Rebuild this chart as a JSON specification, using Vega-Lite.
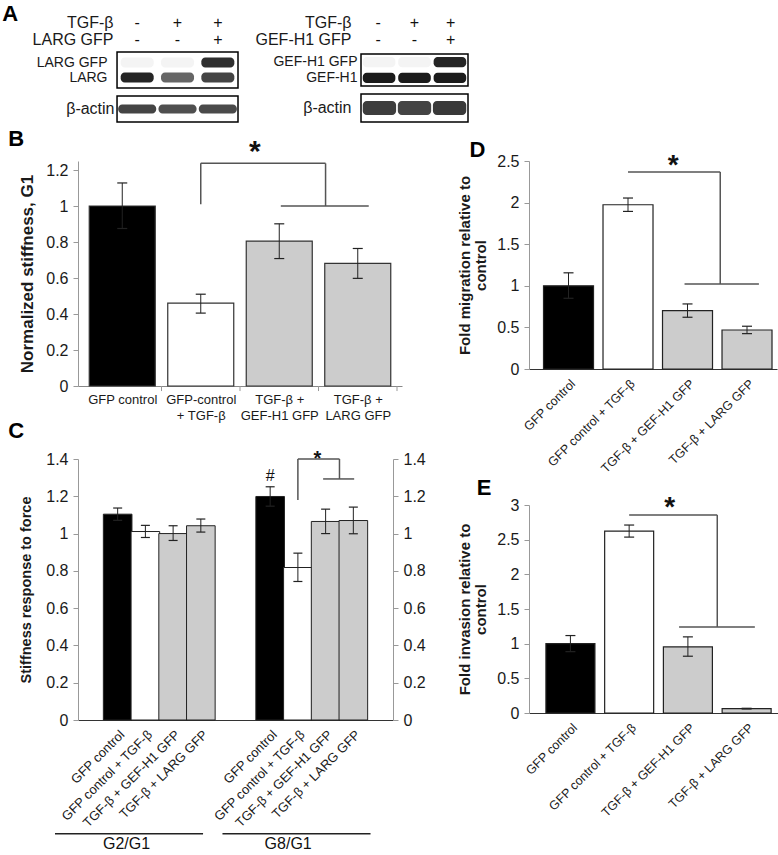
{
  "$schema": "https://vega.github.io/schema/vega-lite/v6.json",
  "padding": {"left": 2, "top": 2, "right": 0, "bottom": 0},
  "background": "white",
  "config": {
    "font": "Liberation Sans",
    "view": {"stroke": null},
    "axis": {"labelFont": "Liberation Sans", "titleFont": "Liberation Sans", "labelColor": "#1a1a1a", "titleColor": "#1a1a1a", "grid": false, "labelOverlap": false, "labelBound": false},
    "text": {"font": "Liberation Sans"}
  },
  "spacing": 5,
  "vconcat": [
    {
      "hconcat": [
        {
          "vconcat": [
            {
              "width": 160, "height": 34,
              "layer": [
                {
                  "data": {"values": [
                    {"lane": 1, "row": "TGF-β", "sign": "-"}, {"lane": 2, "row": "TGF-β", "sign": "+"}, {"lane": 3, "row": "TGF-β", "sign": "+"},
                    {"lane": 1, "row": "LARG GFP", "sign": "-"}, {"lane": 2, "row": "LARG GFP", "sign": "-"}, {"lane": 3, "row": "LARG GFP", "sign": "+"}
                  ]},
                  "mark": {"type": "text", "fontSize": 16, "color": "#111"},
                  "encoding": {
                    "x": {"field": "lane", "type": "quantitative", "scale": {"domain": [-0.468, 3.5], "nice": false, "zero": false}, "axis": null},
                    "y": {"field": "row", "type": "nominal", "sort": ["TGF-β", "LARG GFP"], "scale": {"type": "band"},
                          "axis": {"title": null, "offset": -39, "domain": false, "ticks": false, "labelFontSize": 16, "labelPadding": 4}},
                    "text": {"field": "sign"}
                  }
                },
                {
                  "data": {"values": [{"t": "A"}]},
                  "mark": {"type": "text", "fontSize": 22, "fontWeight": "bold", "color": "#000", "dy": -9},
                  "encoding": {
                    "x": {"datum": -2.15, "type": "quantitative", "scale": {"domain": [-0.468, 3.5], "nice": false, "zero": false}},
                    "y": {"datum": "TGF-β", "type": "nominal"},
                    "text": {"field": "t"}
                  }
                }
              ]
            },
            {
              "vconcat": [
                {
                  "width": 160, "height": 36,
                  "layer": [
                    {
                      "data": {"values": [{"box": "LARG blot"}]},
                      "mark": {"type": "rect", "fill": "#ffffff", "stroke": "#000", "strokeWidth": 1.5},
                      "encoding": {
                        "x": {"datum": 0.5, "type": "quantitative", "scale": {"domain": [-0.468, 3.5], "nice": false, "zero": false}, "axis": null},
                        "x2": {"datum": 3.5}
                      }
                    },
                    {
                      "data": {"values": [
                        {"lane": 1, "band": "LARG GFP", "intensity": 0.04}, {"lane": 2, "band": "LARG GFP", "intensity": 0.04}, {"lane": 3, "band": "LARG GFP", "intensity": 0.85},
                        {"lane": 1, "band": "LARG", "intensity": 0.9}, {"lane": 2, "band": "LARG", "intensity": 0.6}, {"lane": 3, "band": "LARG", "intensity": 0.75}
                      ]},
                      "mark": {"type": "tick", "orient": "horizontal", "size": 33, "thickness": 10, "cornerRadius": 4, "opacity": 1},
                      "encoding": {
                        "x": {"field": "lane", "type": "quantitative", "scale": {"domain": [-0.468, 3.5], "nice": false, "zero": false}, "axis": null},
                        "y": {"field": "band", "type": "nominal", "sort": ["LARG GFP", "LARG"], "scale": {"type": "band", "paddingInner": 0.2, "paddingOuter": 0.3},
                              "axis": {"title": null, "offset": -39, "domain": false, "ticks": false, "labelFontSize": 14, "labelPadding": 10}},
                        "color": {"field": "intensity", "type": "quantitative", "scale": {"domain": [0, 1], "range": ["#ffffff", "#111111"]}, "legend": null}
                      }
                    }
                  ]
                },
                {
                  "width": 160, "height": 26,
                  "layer": [
                    {
                      "data": {"values": [{"box": "actin blot"}]},
                      "mark": {"type": "rect", "fill": "#ffffff", "stroke": "#000", "strokeWidth": 1.5},
                      "encoding": {
                        "x": {"datum": 0.5, "type": "quantitative", "scale": {"domain": [-0.468, 3.5], "nice": false, "zero": false}, "axis": null},
                        "x2": {"datum": 3.5}
                      }
                    },
                    {
                      "data": {"values": [
                        {"lane": 1, "band": "β-actin", "intensity": 0.75}, {"lane": 2, "band": "β-actin", "intensity": 0.7}, {"lane": 3, "band": "β-actin", "intensity": 0.72}
                      ]},
                      "mark": {"type": "tick", "orient": "horizontal", "size": 38, "thickness": 9, "cornerRadius": 4, "opacity": 1},
                      "encoding": {
                        "x": {"field": "lane", "type": "quantitative", "scale": {"domain": [-0.468, 3.5], "nice": false, "zero": false}, "axis": null},
                        "y": {"field": "band", "type": "nominal", "scale": {"type": "band", "paddingInner": 0.2, "paddingOuter": 0.3},
                              "axis": {"title": null, "offset": -39, "domain": false, "ticks": false, "labelFontSize": 16, "labelPadding": 3}},
                        "color": {"field": "intensity", "type": "quantitative", "scale": {"domain": [0, 1], "range": ["#ffffff", "#111111"]}, "legend": null}
                      }
                    }
                  ]
                }
              ],
              "spacing": 6
            }
          ],
          "spacing": 3
        },
        {
          "vconcat": [
            {
              "width": 107, "height": 34,
              "data": {"values": [
                {"lane": 1, "row": "TGF-β", "sign": "-"}, {"lane": 2, "row": "TGF-β", "sign": "+"}, {"lane": 3, "row": "TGF-β", "sign": "+"},
                {"lane": 1, "row": "GEF-H1 GFP", "sign": "-"}, {"lane": 2, "row": "GEF-H1 GFP", "sign": "-"}, {"lane": 3, "row": "GEF-H1 GFP", "sign": "+"}
              ]},
              "mark": {"type": "text", "fontSize": 16, "color": "#111"},
              "encoding": {
                "x": {"field": "lane", "type": "ordinal", "scale": {"type": "band", "paddingInner": 0.15, "paddingOuter": 0.05}, "axis": null},
                "y": {"field": "row", "type": "nominal", "sort": ["TGF-β", "GEF-H1 GFP"], "scale": {"type": "band"},
                      "axis": {"title": null, "domain": false, "ticks": false, "labelFontSize": 16, "labelPadding": 10}},
                "text": {"field": "sign"}
              }
            },
            {
              "vconcat": [
                {
                  "width": 107, "height": 32,
                  "view": {"stroke": "#000", "strokeWidth": 1.5},
                  "data": {"values": [
                    {"lane": 1, "band": "GEF-H1 GFP", "intensity": 0.04}, {"lane": 2, "band": "GEF-H1 GFP", "intensity": 0.04}, {"lane": 3, "band": "GEF-H1 GFP", "intensity": 0.9},
                    {"lane": 1, "band": "GEF-H1", "intensity": 0.95}, {"lane": 2, "band": "GEF-H1", "intensity": 0.95}, {"lane": 3, "band": "GEF-H1", "intensity": 0.95}
                  ]},
                  "mark": {"type": "rect", "cornerRadius": 4},
                  "encoding": {
                    "x": {"field": "lane", "type": "ordinal", "scale": {"paddingInner": 0.08, "paddingOuter": 0.05}, "axis": null},
                    "y": {"field": "band", "type": "nominal", "sort": ["GEF-H1 GFP", "GEF-H1"], "scale": {"paddingInner": 0.35, "paddingOuter": 0.2},
                          "axis": {"title": null, "domain": false, "ticks": false, "labelFontSize": 14, "labelPadding": 4}},
                    "color": {"field": "intensity", "type": "quantitative", "scale": {"domain": [0, 1], "range": ["#ffffff", "#111111"]}, "legend": null}
                  }
                },
                {
                  "width": 107, "height": 28,
                  "view": {"stroke": "#000", "strokeWidth": 1.5},
                  "data": {"values": [
                    {"lane": 1, "band": "β-actin", "intensity": 0.78}, {"lane": 2, "band": "β-actin", "intensity": 0.75}, {"lane": 3, "band": "β-actin", "intensity": 0.8}
                  ]},
                  "mark": {"type": "rect", "cornerRadius": 4},
                  "encoding": {
                    "x": {"field": "lane", "type": "ordinal", "scale": {"paddingInner": 0.05, "paddingOuter": 0.05}, "axis": null},
                    "y": {"field": "band", "type": "nominal", "scale": {"paddingInner": 0.4, "paddingOuter": 0.3},
                          "axis": {"title": null, "domain": false, "ticks": false, "labelFontSize": 16, "labelPadding": 10}},
                    "color": {"field": "intensity", "type": "quantitative", "scale": {"domain": [0, 1], "range": ["#ffffff", "#111111"]}, "legend": null}
                  }
                }
              ],
              "spacing": 6
            }
          ],
          "spacing": 5
        }
      ],
      "spacing": 15
    },
    {
      "hconcat": [
        {
          "vconcat": [
            {
              "width": 324, "height": 225,
              "layer": [
                {
                  "data": {"values": [
                    {"pos": 1, "group": "control", "value": 1.0, "lo": 0.875, "hi": 1.128},
                    {"pos": 2, "group": "tgf", "value": 0.46, "lo": 0.405, "hi": 0.51},
                    {"pos": 3, "group": "rescue", "value": 0.805, "lo": 0.708, "hi": 0.901},
                    {"pos": 4, "group": "rescue", "value": 0.681, "lo": 0.598, "hi": 0.764}
                  ]},
                  "layer": [
                    {
                      "mark": {"type": "bar", "size": 66, "stroke": "#333", "strokeWidth": 1.2},
                      "encoding": {
                        "x": {"field": "pos", "type": "quantitative", "title": null, "scale": {"domain": [0.5, 4.5], "nice": false, "zero": false},
                              "axis": {"values": [1, 2, 3, 4], "ticks": false, "domainColor": "#888", "labelFontSize": 13, "labelPadding": 7, "labelLineHeight": 16, "labelOverlap": false,
                                       "labelExpr": "datum.value == 1 ? 'GFP control' : datum.value == 2 ? ['GFP-control', '+ TGF-β'] : datum.value == 3 ? ['TGF-β +', 'GEF-H1 GFP'] : ['TGF-β +', 'LARG GFP']"}},
                        "y": {"field": "value", "type": "quantitative", "title": "Normalized stiffness, G1", "scale": {"domain": [0, 1.25], "nice": false},
                              "axis": {"values": [0, 0.2, 0.4, 0.6, 0.8, 1, 1.2], "tickCount": 7, "labelOverlap": false, "format": "~g", "labelFontSize": 16, "titleFontSize": 17, "titleFontWeight": "bold", "domainColor": "#999", "tickColor": "#999", "tickSize": 5, "labelPadding": 5, "titlePadding": 9}},
                        "fill": {"field": "group", "type": "nominal", "scale": {"domain": ["control", "tgf", "rescue"], "range": ["#000000", "#ffffff", "#cccccc"]}, "legend": null}
                      }
                    },
                    {
                      "mark": {"type": "rule", "color": "#222", "strokeWidth": 1},
                      "encoding": {
                        "x": {"field": "pos", "type": "quantitative", "scale": {"domain": [0.5, 4.5], "nice": false, "zero": false}},
                        "y": {"field": "lo", "type": "quantitative", "title": "Normalized stiffness, G1", "scale": {"domain": [0, 1.25], "nice": false}},
                        "y2": {"field": "hi"}
                      }
                    },
                    {
                      "mark": {"type": "tick", "orient": "horizontal", "size": 10, "thickness": 1.2, "color": "#222", "opacity": 1},
                      "encoding": {
                        "x": {"field": "pos", "type": "quantitative", "scale": {"domain": [0.5, 4.5], "nice": false, "zero": false}},
                        "y": {"field": "hi", "type": "quantitative", "title": "Normalized stiffness, G1", "scale": {"domain": [0, 1.25], "nice": false}}
                      }
                    },
                    {
                      "mark": {"type": "tick", "orient": "horizontal", "size": 10, "thickness": 1.2, "color": "#222", "opacity": 1},
                      "encoding": {
                        "x": {"field": "pos", "type": "quantitative", "scale": {"domain": [0.5, 4.5], "nice": false, "zero": false}},
                        "y": {"field": "lo", "type": "quantitative", "title": "Normalized stiffness, G1", "scale": {"domain": [0, 1.25], "nice": false}}
                      }
                    }
                  ]
                },
                {
                  "data": {"values": [
                    {"x": 1.5, "x2": 1.5, "y": 0, "y2": -0.028},
                    {"x": 2.5, "x2": 2.5, "y": 0, "y2": -0.028},
                    {"x": 3.5, "x2": 3.5, "y": 0, "y2": -0.028},
                    {"x": 4.5, "x2": 4.5, "y": 0, "y2": -0.028}
                  ]},
                  "mark": {"type": "rule", "color": "#999", "strokeWidth": 1},
                  "encoding": {
                    "x": {"field": "x", "type": "quantitative", "scale": {"domain": [0.5, 4.5], "nice": false, "zero": false}},
                    "x2": {"field": "x2"},
                    "y": {"field": "y", "type": "quantitative", "title": "Normalized stiffness, G1", "scale": {"domain": [0, 1.25], "nice": false}},
                    "y2": {"field": "y2"}
                  }
                },
                {
                  "data": {"values": [
                    {"x": 2, "x2": 2, "y": 1.01, "y2": 1.237},
                    {"x": 2, "x2": 3.59, "y": 1.237, "y2": 1.237},
                    {"x": 3.59, "x2": 3.59, "y": 1.237, "y2": 1.0},
                    {"x": 3.02, "x2": 4.14, "y": 1.0, "y2": 1.0}
                  ]},
                  "mark": {"type": "rule", "color": "#555", "strokeWidth": 1.5},
                  "encoding": {
                    "x": {"field": "x", "type": "quantitative", "scale": {"domain": [0.5, 4.5], "nice": false, "zero": false}},
                    "x2": {"field": "x2"},
                    "y": {"field": "y", "type": "quantitative", "title": "Normalized stiffness, G1", "scale": {"domain": [0, 1.25], "nice": false}},
                    "y2": {"field": "y2"}
                  }
                },
                {
                  "data": {"values": [{"x": 2.69, "y": 1.326, "t": "*"}]},
                  "mark": {"type": "text", "fontSize": 30, "fontWeight": "bold", "dy": 5, "color": "#111"},
                  "encoding": {
                    "x": {"field": "x", "type": "quantitative", "scale": {"domain": [0.5, 4.5], "nice": false, "zero": false}},
                    "y": {"field": "y", "type": "quantitative", "title": "Normalized stiffness, G1", "scale": {"domain": [0, 1.25], "nice": false}},
                    "text": {"field": "t"}
                  }
                },
                {
                  "data": {"values": [{"x": -0.352, "y": 1.372, "t": "B"}]},
                  "mark": {"type": "text", "fontSize": 22, "fontWeight": "bold", "baseline": "middle", "color": "#000"},
                  "encoding": {
                    "x": {"field": "x", "type": "quantitative", "scale": {"domain": [0.5, 4.5], "nice": false, "zero": false}},
                    "y": {"field": "y", "type": "quantitative", "title": "Normalized stiffness, G1", "scale": {"domain": [0, 1.25], "nice": false}},
                    "text": {"field": "t"}
                  }
                }
              ]
            },
            {
              "width": 315, "height": 261,
              "resolve": {"axis": {"y": "independent"}},
              "layer": [
                {
                  "data": {"values": [
                    {"pos": 1, "ratio": "G2/G1", "group": "control", "value": 1.104, "lo": 1.071, "hi": 1.137},
                    {"pos": 2, "ratio": "G2/G1", "group": "tgf", "value": 1.011, "lo": 0.979, "hi": 1.044},
                    {"pos": 3, "ratio": "G2/G1", "group": "rescue", "value": 1.0, "lo": 0.963, "hi": 1.042},
                    {"pos": 4, "ratio": "G2/G1", "group": "rescue", "value": 1.042, "lo": 1.008, "hi": 1.078},
                    {"pos": 6.5, "ratio": "G8/G1", "group": "control", "value": 1.199, "lo": 1.147, "hi": 1.251},
                    {"pos": 7.5, "ratio": "G8/G1", "group": "tgf", "value": 0.818, "lo": 0.743, "hi": 0.895},
                    {"pos": 8.5, "ratio": "G8/G1", "group": "rescue", "value": 1.065, "lo": 1.0, "hi": 1.131},
                    {"pos": 9.5, "ratio": "G8/G1", "group": "rescue", "value": 1.07, "lo": 0.999, "hi": 1.142}
                  ]},
                  "layer": [
                    {
                      "mark": {"type": "bar", "size": 28.6, "stroke": "#222", "strokeWidth": 1},
                      "encoding": {
                        "x": {"field": "pos", "type": "quantitative", "title": null, "scale": {"domain": [-0.25, 10.75], "nice": false, "zero": false},
                              "axis": {"values": [1, 2, 3, 4, 6.5, 7.5, 8.5, 9.5], "ticks": false, "domainColor": "#333", "labelAngle": -45, "labelFontSize": 13, "labelPadding": 8, "labelOverlap": false,
                                       "labelExpr": "(datum.value == 1 || datum.value == 6.5) ? 'GFP control' : (datum.value == 2 || datum.value == 7.5) ? 'GFP control + TGF-β' : (datum.value == 3 || datum.value == 8.5) ? 'TGF-β + GEF-H1 GFP' : 'TGF-β + LARG GFP'"}},
                        "y": {"field": "value", "type": "quantitative", "title": "Stiffness response to force", "scale": {"domain": [0, 1.4], "nice": false},
                              "axis": {"orient": "left", "values": [0, 0.2, 0.4, 0.6, 0.8, 1, 1.2, 1.4], "labelOverlap": false, "format": "~g", "labelFontSize": 16, "titleFontSize": 14.5, "titleFontWeight": "bold", "domainColor": "#999", "tickColor": "#999", "tickSize": 5, "labelPadding": 5, "titlePadding": 12}},
                        "fill": {"field": "group", "type": "nominal", "scale": {"domain": ["control", "tgf", "rescue"], "range": ["#000000", "#ffffff", "#cccccc"]}, "legend": null}
                      }
                    },
                    {
                      "mark": {"type": "rule", "color": "#222", "strokeWidth": 1},
                      "encoding": {
                        "x": {"field": "pos", "type": "quantitative", "scale": {"domain": [-0.25, 10.75], "nice": false, "zero": false}},
                        "y": {"field": "lo", "type": "quantitative", "title": null, "scale": {"domain": [0, 1.4], "nice": false},
                              "axis": {"orient": "right", "values": [0, 0.2, 0.4, 0.6, 0.8, 1, 1.2, 1.4], "labelOverlap": false, "format": "~g", "labelFontSize": 16, "domainColor": "#999", "tickColor": "#999", "tickSize": 5, "labelPadding": 5}},
                        "y2": {"field": "hi"}
                      }
                    },
                    {
                      "mark": {"type": "tick", "orient": "horizontal", "size": 9, "thickness": 1.2, "color": "#222", "opacity": 1},
                      "encoding": {
                        "x": {"field": "pos", "type": "quantitative", "scale": {"domain": [-0.25, 10.75], "nice": false, "zero": false}},
                        "y": {"field": "hi", "type": "quantitative", "scale": {"domain": [0, 1.4], "nice": false}, "axis": null}
                      }
                    },
                    {
                      "mark": {"type": "tick", "orient": "horizontal", "size": 9, "thickness": 1.2, "color": "#222", "opacity": 1},
                      "encoding": {
                        "x": {"field": "pos", "type": "quantitative", "scale": {"domain": [-0.25, 10.75], "nice": false, "zero": false}},
                        "y": {"field": "lo", "type": "quantitative", "scale": {"domain": [0, 1.4], "nice": false}, "axis": null}
                      }
                    }
                  ]
                },
                {
                  "data": {"values": [
                    {"x": 7.5, "x2": 7.5, "y": 1.18, "y2": 1.4},
                    {"x": 7.5, "x2": 9.0, "y": 1.4, "y2": 1.4},
                    {"x": 9.0, "x2": 9.0, "y": 1.4, "y2": 1.293},
                    {"x": 8.41, "x2": 9.53, "y": 1.293, "y2": 1.293}
                  ]},
                  "mark": {"type": "rule", "color": "#555", "strokeWidth": 1.5},
                  "encoding": {
                    "x": {"field": "x", "type": "quantitative", "scale": {"domain": [-0.25, 10.75], "nice": false, "zero": false}},
                    "x2": {"field": "x2"},
                    "y": {"field": "y", "type": "quantitative", "scale": {"domain": [0, 1.4], "nice": false}, "axis": null},
                    "y2": {"field": "y2"}
                  }
                },
                {
                  "data": {"values": [
                    {"x": -1.26, "x2": 4.08, "y": -0.61, "y2": -0.61},
                    {"x": 4.78, "x2": 10.12, "y": -0.61, "y2": -0.61}
                  ]},
                  "mark": {"type": "rule", "color": "#222", "strokeWidth": 1.5},
                  "encoding": {
                    "x": {"field": "x", "type": "quantitative", "scale": {"domain": [-0.25, 10.75], "nice": false, "zero": false}},
                    "x2": {"field": "x2"},
                    "y": {"field": "y", "type": "quantitative", "scale": {"domain": [0, 1.4], "nice": false}, "axis": null},
                    "y2": {"field": "y2"}
                  }
                },
                {
                  "data": {"values": [
                    {"x": 1.32, "y": -0.665, "t": "G2/G1"},
                    {"x": 7.15, "y": -0.665, "t": "G8/G1"},
                    {"x": 6.5, "y": 1.307, "t": "#"}
                  ]},
                  "mark": {"type": "text", "fontSize": 16, "baseline": "middle", "color": "#111"},
                  "encoding": {
                    "x": {"field": "x", "type": "quantitative", "scale": {"domain": [-0.25, 10.75], "nice": false, "zero": false}},
                    "y": {"field": "y", "type": "quantitative", "scale": {"domain": [0, 1.4], "nice": false}, "axis": null},
                    "text": {"field": "t"}
                  }
                },
                {
                  "data": {"values": [{"x": 8.2, "y": 1.43, "t": "*"}]},
                  "mark": {"type": "text", "fontSize": 20, "fontWeight": "bold", "dy": 6, "color": "#111"},
                  "encoding": {
                    "x": {"field": "x", "type": "quantitative", "scale": {"domain": [-0.25, 10.75], "nice": false, "zero": false}},
                    "y": {"field": "y", "type": "quantitative", "scale": {"domain": [0, 1.4], "nice": false}, "axis": null},
                    "text": {"field": "t"}
                  }
                },
                {
                  "data": {"values": [{"x": -2.66, "y": 1.55, "t": "C"}]},
                  "mark": {"type": "text", "fontSize": 22, "fontWeight": "bold", "baseline": "middle", "color": "#000"},
                  "encoding": {
                    "x": {"field": "x", "type": "quantitative", "scale": {"domain": [-0.25, 10.75], "nice": false, "zero": false}},
                    "y": {"field": "y", "type": "quantitative", "scale": {"domain": [0, 1.4], "nice": false}, "axis": null},
                    "text": {"field": "t"}
                  }
                }
              ]
            }
          ],
          "spacing": -2
        },
        {
          "vconcat": [
            {
              "width": 248, "height": 208,
              "layer": [
                {
                  "data": {"values": [
                    {"pos": 1, "group": "control", "value": 1.0, "lo": 0.85, "hi": 1.156},
                    {"pos": 2, "group": "tgf", "value": 1.974, "lo": 1.894, "hi": 2.055},
                    {"pos": 3, "group": "rescue", "value": 0.702, "lo": 0.622, "hi": 0.782},
                    {"pos": 4, "group": "rescue", "value": 0.469, "lo": 0.425, "hi": 0.514}
                  ]},
                  "layer": [
                    {
                      "mark": {"type": "bar", "size": 50, "stroke": "#222", "strokeWidth": 1.2},
                      "encoding": {
                        "x": {"field": "pos", "type": "quantitative", "title": null, "scale": {"domain": [0.42, 4.42], "nice": false, "zero": false},
                              "axis": {"values": [1, 2, 3, 4], "ticks": false, "domainColor": "#333", "labelAngle": -45, "labelFontSize": 12.5, "labelPadding": 8, "labelOverlap": false,
                                       "labelExpr": "datum.value == 1 ? 'GFP control' : datum.value == 2 ? 'GFP control + TGF-β' : datum.value == 3 ? 'TGF-β + GEF-H1 GFP' : 'TGF-β + LARG GFP'"}},
                        "y": {"field": "value", "type": "quantitative", "title": ["Fold migration relative to", "control"], "scale": {"domain": [0, 2.5], "nice": false},
                              "axis": {"values": [0, 0.5, 1, 1.5, 2, 2.5], "tickCount": 6, "labelOverlap": false, "format": "~g", "labelFontSize": 16, "titleFontSize": 15, "titleFontWeight": "bold", "titleLineHeight": 16, "domainColor": "#999", "tickColor": "#999", "tickSize": 5, "labelPadding": 5, "titlePadding": 8}},
                        "fill": {"field": "group", "type": "nominal", "scale": {"domain": ["control", "tgf", "rescue"], "range": ["#000000", "#ffffff", "#cccccc"]}, "legend": null}
                      }
                    },
                    {
                      "mark": {"type": "rule", "color": "#222", "strokeWidth": 1},
                      "encoding": {
                        "x": {"field": "pos", "type": "quantitative", "scale": {"domain": [0.42, 4.42], "nice": false, "zero": false}},
                        "y": {"field": "lo", "type": "quantitative", "title": ["Fold migration relative to", "control"], "scale": {"domain": [0, 2.5], "nice": false}},
                        "y2": {"field": "hi"}
                      }
                    },
                    {
                      "mark": {"type": "tick", "orient": "horizontal", "size": 10, "thickness": 1.2, "color": "#222", "opacity": 1},
                      "encoding": {
                        "x": {"field": "pos", "type": "quantitative", "scale": {"domain": [0.42, 4.42], "nice": false, "zero": false}},
                        "y": {"field": "hi", "type": "quantitative", "title": ["Fold migration relative to", "control"], "scale": {"domain": [0, 2.5], "nice": false}}
                      }
                    },
                    {
                      "mark": {"type": "tick", "orient": "horizontal", "size": 10, "thickness": 1.2, "color": "#222", "opacity": 1},
                      "encoding": {
                        "x": {"field": "pos", "type": "quantitative", "scale": {"domain": [0.42, 4.42], "nice": false, "zero": false}},
                        "y": {"field": "lo", "type": "quantitative", "title": ["Fold migration relative to", "control"], "scale": {"domain": [0, 2.5], "nice": false}}
                      }
                    }
                  ]
                },
                {
                  "data": {"values": [
                    {"x": 2, "x2": 3.55, "y": 2.368, "y2": 2.368},
                    {"x": 3.55, "x2": 3.55, "y": 2.368, "y2": 1.023},
                    {"x": 2.95, "x2": 4.2, "y": 1.023, "y2": 1.023}
                  ]},
                  "mark": {"type": "rule", "color": "#555", "strokeWidth": 1.5},
                  "encoding": {
                    "x": {"field": "x", "type": "quantitative", "scale": {"domain": [0.42, 4.42], "nice": false, "zero": false}},
                    "x2": {"field": "x2"},
                    "y": {"field": "y", "type": "quantitative", "title": ["Fold migration relative to", "control"], "scale": {"domain": [0, 2.5], "nice": false}},
                    "y2": {"field": "y2"}
                  }
                },
                {
                  "data": {"values": [{"x": 2.76, "y": 2.49, "t": "*"}]},
                  "mark": {"type": "text", "fontSize": 28, "fontWeight": "bold", "dy": 4, "color": "#111"},
                  "encoding": {
                    "x": {"field": "x", "type": "quantitative", "scale": {"domain": [0.42, 4.42], "nice": false, "zero": false}},
                    "y": {"field": "y", "type": "quantitative", "title": ["Fold migration relative to", "control"], "scale": {"domain": [0, 2.5], "nice": false}},
                    "text": {"field": "t"}
                  }
                },
                {
                  "data": {"values": [{"x": -0.532, "y": 2.632, "t": "D"}]},
                  "mark": {"type": "text", "fontSize": 22, "fontWeight": "bold", "baseline": "middle", "color": "#000"},
                  "encoding": {
                    "x": {"field": "x", "type": "quantitative", "scale": {"domain": [0.42, 4.42], "nice": false, "zero": false}},
                    "y": {"field": "y", "type": "quantitative", "title": ["Fold migration relative to", "control"], "scale": {"domain": [0, 2.5], "nice": false}},
                    "text": {"field": "t"}
                  }
                }
              ]
            },
            {
              "width": 252, "height": 208,
              "layer": [
                {
                  "data": {"values": [
                    {"pos": 1, "group": "control", "value": 1.0, "lo": 0.885, "hi": 1.117},
                    {"pos": 2, "group": "tgf", "value": 2.624, "lo": 2.537, "hi": 2.711},
                    {"pos": 3, "group": "rescue", "value": 0.953, "lo": 0.819, "hi": 1.098},
                    {"pos": 4, "group": "rescue", "value": 0.063, "lo": 0.058, "hi": 0.068}
                  ]},
                  "layer": [
                    {
                      "mark": {"type": "bar", "size": 49, "stroke": "#222", "strokeWidth": 1.2},
                      "encoding": {
                        "x": {"field": "pos", "type": "quantitative", "title": null, "scale": {"domain": [0.38, 4.5], "nice": false, "zero": false},
                              "axis": {"values": [1, 2, 3, 4], "ticks": false, "domainColor": "#333", "labelAngle": -45, "labelFontSize": 12.5, "labelPadding": 8, "labelOverlap": false,
                                       "labelExpr": "datum.value == 1 ? 'GFP control' : datum.value == 2 ? 'GFP control + TGF-β' : datum.value == 3 ? 'TGF-β + GEF-H1 GFP' : 'TGF-β + LARG GFP'"}},
                        "y": {"field": "value", "type": "quantitative", "title": ["Fold invasion relative to", "control"], "scale": {"domain": [0, 3], "nice": false},
                              "axis": {"values": [0, 0.5, 1, 1.5, 2, 2.5, 3], "tickCount": 7, "labelOverlap": false, "format": "~g", "labelFontSize": 16, "titleFontSize": 15, "titleFontWeight": "bold", "titleLineHeight": 16, "domainColor": "#999", "tickColor": "#999", "tickSize": 5, "labelPadding": 5, "titlePadding": 8}},
                        "fill": {"field": "group", "type": "nominal", "scale": {"domain": ["control", "tgf", "rescue"], "range": ["#000000", "#ffffff", "#cccccc"]}, "legend": null}
                      }
                    },
                    {
                      "mark": {"type": "rule", "color": "#222", "strokeWidth": 1},
                      "encoding": {
                        "x": {"field": "pos", "type": "quantitative", "scale": {"domain": [0.38, 4.5], "nice": false, "zero": false}},
                        "y": {"field": "lo", "type": "quantitative", "title": ["Fold invasion relative to", "control"], "scale": {"domain": [0, 3], "nice": false}},
                        "y2": {"field": "hi"}
                      }
                    },
                    {
                      "mark": {"type": "tick", "orient": "horizontal", "size": 10, "thickness": 1.2, "color": "#222", "opacity": 1},
                      "encoding": {
                        "x": {"field": "pos", "type": "quantitative", "scale": {"domain": [0.38, 4.5], "nice": false, "zero": false}},
                        "y": {"field": "hi", "type": "quantitative", "title": ["Fold invasion relative to", "control"], "scale": {"domain": [0, 3], "nice": false}}
                      }
                    },
                    {
                      "mark": {"type": "tick", "orient": "horizontal", "size": 10, "thickness": 1.2, "color": "#222", "opacity": 1},
                      "encoding": {
                        "x": {"field": "pos", "type": "quantitative", "scale": {"domain": [0.38, 4.5], "nice": false, "zero": false}},
                        "y": {"field": "lo", "type": "quantitative", "title": ["Fold invasion relative to", "control"], "scale": {"domain": [0, 3], "nice": false}}
                      }
                    }
                  ]
                },
                {
                  "data": {"values": [
                    {"x": 2, "x2": 3.5, "y": 2.855, "y2": 2.855},
                    {"x": 3.5, "x2": 3.5, "y": 2.855, "y2": 1.242},
                    {"x": 2.85, "x2": 4.14, "y": 1.242, "y2": 1.242}
                  ]},
                  "mark": {"type": "rule", "color": "#555", "strokeWidth": 1.5},
                  "encoding": {
                    "x": {"field": "x", "type": "quantitative", "scale": {"domain": [0.38, 4.5], "nice": false, "zero": false}},
                    "x2": {"field": "x2"},
                    "y": {"field": "y", "type": "quantitative", "title": ["Fold invasion relative to", "control"], "scale": {"domain": [0, 3], "nice": false}},
                    "y2": {"field": "y2"}
                  }
                },
                {
                  "data": {"values": [{"x": 2.69, "y": 3.02, "t": "*"}]},
                  "mark": {"type": "text", "fontSize": 28, "fontWeight": "bold", "dy": 4, "color": "#111"},
                  "encoding": {
                    "x": {"field": "x", "type": "quantitative", "scale": {"domain": [0.38, 4.5], "nice": false, "zero": false}},
                    "y": {"field": "y", "type": "quantitative", "title": ["Fold invasion relative to", "control"], "scale": {"domain": [0, 3], "nice": false}},
                    "text": {"field": "t"}
                  }
                },
                {
                  "data": {"values": [{"x": -0.47, "y": 3.245, "t": "E"}]},
                  "mark": {"type": "text", "fontSize": 22, "fontWeight": "bold", "baseline": "middle", "color": "#000"},
                  "encoding": {
                    "x": {"field": "x", "type": "quantitative", "scale": {"domain": [0.38, 4.5], "nice": false, "zero": false}},
                    "y": {"field": "y", "type": "quantitative", "title": ["Fold invasion relative to", "control"], "scale": {"domain": [0, 3], "nice": false}},
                    "text": {"field": "t"}
                  }
                }
              ]
            }
          ],
          "spacing": 2
        }
      ],
      "spacing": 31
    }
  ]
}
